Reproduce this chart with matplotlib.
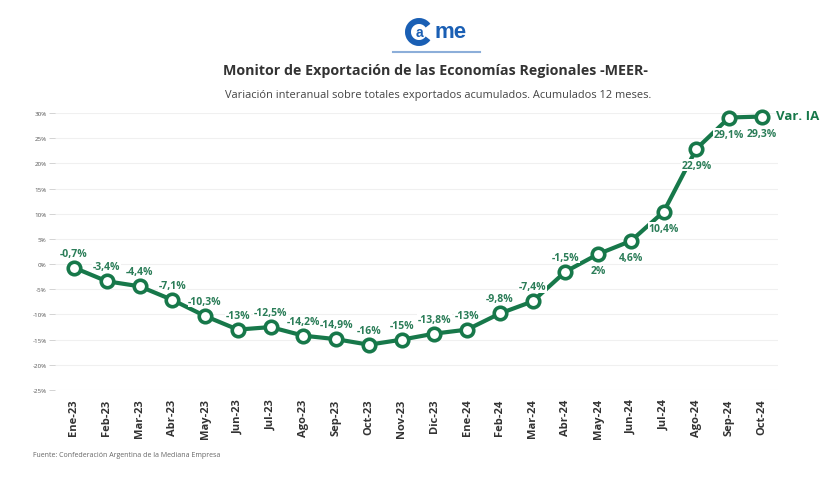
import matplotlib
matplotlib.use("Agg")
import matplotlib.pyplot as plt
from matplotlib.patches import Arc

months = ["Ene-23", "Feb-23", "Mar-23", "Abr-23", "May-23", "Jun-23", "Jul-23",
          "Ago-23", "Sep-23", "Oct-23", "Nov-23", "Dic-23", "Ene-24", "Feb-24",
          "Mar-24", "Abr-24", "May-24", "Jun-24", "Jul-24", "Ago-24", "Sep-24", "Oct-24"]
values = [-0.7, -3.4, -4.4, -7.1, -10.3, -13, -12.5, -14.2, -14.9, -16, -15, -13.8,
          -13, -9.8, -7.4, -1.5, 2, 4.6, 10.4, 22.9, 29.1, 29.3]
yticks = [30, 25, 20, 15, 10, 5, 0, -5, -10, -15, -20, -25]

GREEN = "#17784a"
LABEL_GREEN = "#2b7d58"
plt.rcParams['font.family'] = ['Open Sans', 'DejaVu Sans']

fig = plt.figure(figsize=(8.33, 4.81), dpi=100)
ax = fig.add_axes([0.066, 0.187, 0.868, 0.576])
x = list(range(len(months)))
ax.plot(x, values, color=GREEN, lw=3, marker='o', ms=9, mfc='white', mec=GREEN,
        mew=2.6, clip_on=False, zorder=3, solid_capstyle='round')

bb = dict(boxstyle='square,pad=0.05', fc='white', ec='none')
for i, v in enumerate(values):
    lab = (f"{v:g}".replace('.', ',')) + "%"
    if v < 0:
        ax.annotate(lab, (i, v), xytext=(0, 6.5), textcoords='offset points',
                    ha='center', va='bottom', fontsize=7.5, fontweight='bold',
                    color=LABEL_GREEN, bbox=bb, zorder=5)
    else:
        ax.annotate(lab, (i, v), xytext=(0, -8), textcoords='offset points',
                    ha='center', va='top', fontsize=7.5, fontweight='bold',
                    color=LABEL_GREEN, bbox=bb, zorder=5)

ax.annotate("Var. IA", (x[-1], values[-1]), xytext=(10, 1), textcoords='offset points',
            ha='left', va='center', fontsize=9.5, fontweight='bold', color=GREEN,
            annotation_clip=False)

ax.set_xlim(-0.58, 21.49)
ax.set_ylim(-25, 30)
ax.set_yticks(yticks)
ax.set_yticklabels([f"{t}%" for t in yticks], fontsize=4.5, color='#555555')
ax.set_xticks(x)
ax.set_xticklabels(months, rotation=90, fontsize=8, fontweight='bold', color='#333333')
ax.tick_params(axis='y', length=4, color='#cccccc', width=0.6, pad=2)
ax.tick_params(axis='x', length=0, pad=6)
for s in ax.spines.values():
    s.set_visible(False)
ax.grid(axis='y', color='#f0f0f0', lw=0.8)
ax.set_axisbelow(True)

# Titles
fig.text(0.523, 0.852, "Monitor de Exportación de las Economías Regionales -MEER-",
         ha='center', va='center', fontsize=10.3, fontweight='bold', color='#333333')
fig.text(0.526, 0.802, "Variación interanual sobre totales exportados acumulados. Acumulados 12 meses.",
         ha='center', va='center', fontsize=7.9, color='#444444')

# Logo (pixel-like coordinates)
BLUE = "#1a5fb4"
lax = fig.add_axes([390 / 833, 1 - 58 / 481, 95 / 833, 46 / 481])
lax.set_xlim(0, 95)
lax.set_ylim(46, 0)
lax.axis('off')
lax.add_patch(Arc((29, 21), 22, 22, theta1=35, theta2=325, lw=4.3, color=BLUE))
lax.text(29, 21, "a", ha='center', va='center', fontsize=10, fontweight='bold',
         color=BLUE, family='Liberation Sans')
lax.text(44, 21, "me", ha='left', va='center', fontsize=16, fontweight='bold',
         color=BLUE, family='Liberation Sans')
lax.plot([3, 90], [41, 41], color=BLUE, lw=1.5, alpha=0.5)

fig.text(0.040, 0.052, "Fuente: Confederación Argentina de la Mediana Empresa",
         ha='left', va='center', fontsize=5, color='#666666')

fig.savefig("out.png", dpi=100, facecolor='white')
